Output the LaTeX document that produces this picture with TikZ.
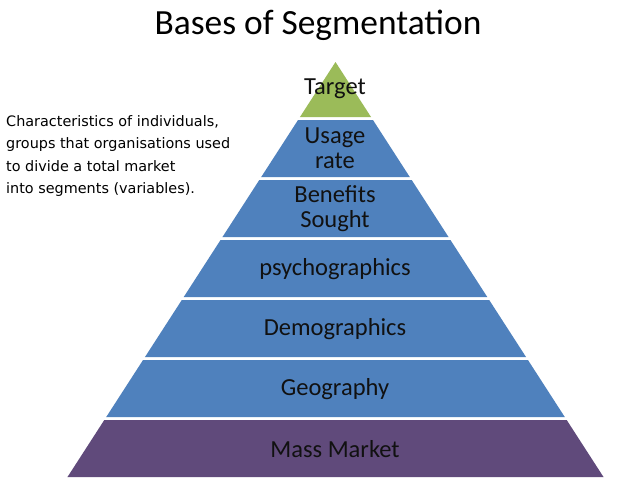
\documentclass[tikz,border=0pt]{standalone}
\usepackage{fontspec}
\setmainfont{Carlito}
\newfontfamily\notefont{DejaVu Sans}
\definecolor{tgreen}{HTML}{9BBB59}
\definecolor{tblue}{HTML}{4F81BD}
\definecolor{tpurple}{HTML}{604A7B}
\definecolor{ttext}{HTML}{111111}
\newcommand{\pyrlayer}[3]{%
  \fill[#3] ({335.5-0.6458*(#1-62)},#1) -- ({335.5+0.6458*(#1-62)},#1) -- ({335.5+0.6458*(#2-62)},#2) -- ({335.5-0.6458*(#2-62)},#2) -- cycle;}
\begin{document}
\begin{tikzpicture}[x=1pt,y=-1pt,
  lbl/.style={font=\fontsize{24.5}{25}\selectfont, text=ttext, align=center, inner sep=0pt},
  lbltwo/.style={lbl, font=\fontsize{24.5}{25}\selectfont},
  notestyle/.style={font=\notefont\fontsize{14.4}{22.6}\selectfont, align=left, anchor=north west, inner sep=0pt, text=black}]
\useasboundingbox (0,0) rectangle (638,479);
\fill[white] (0,0) rectangle (638,479);
\node[font=\fontsize{35.4}{38}\selectfont, inner sep=0pt] (title) at (318,25) {Bases of Segmentation};
% apex triangle
\fill[tgreen] (335.5,62) -- ({335.5+0.6458*(117-62)},117) -- ({335.5-0.6458*(117-62)},117) -- cycle;
\pyrlayer{120}{177}{tblue}
\pyrlayer{180}{237}{tblue}
\pyrlayer{240}{297}{tblue}
\pyrlayer{300}{357}{tblue}
\pyrlayer{360}{417}{tblue}
\pyrlayer{420}{477}{tpurple}
\node[lbl] (target) at (335,89) {Target};
\node[lbltwo] (usage) at (335,148) {Usage\\rate};
\node[lbltwo] (benefits) at (335,209) {Benefits\\Sought};
\node[lbl] (psycho) at (335,269) {psychographics};
\node[lbl] (demo) at (335,329) {Demographics};
\node[lbl] (geo) at (335,389) {Geography};
\node[lbl] (mass) at (335,449) {Mass Market};
\node[notestyle] (note) at (6,115) {Characteristics of individuals,\\groups that organisations used\\to divide a total market\\into segments (variables).};
\end{tikzpicture}
\end{document}
